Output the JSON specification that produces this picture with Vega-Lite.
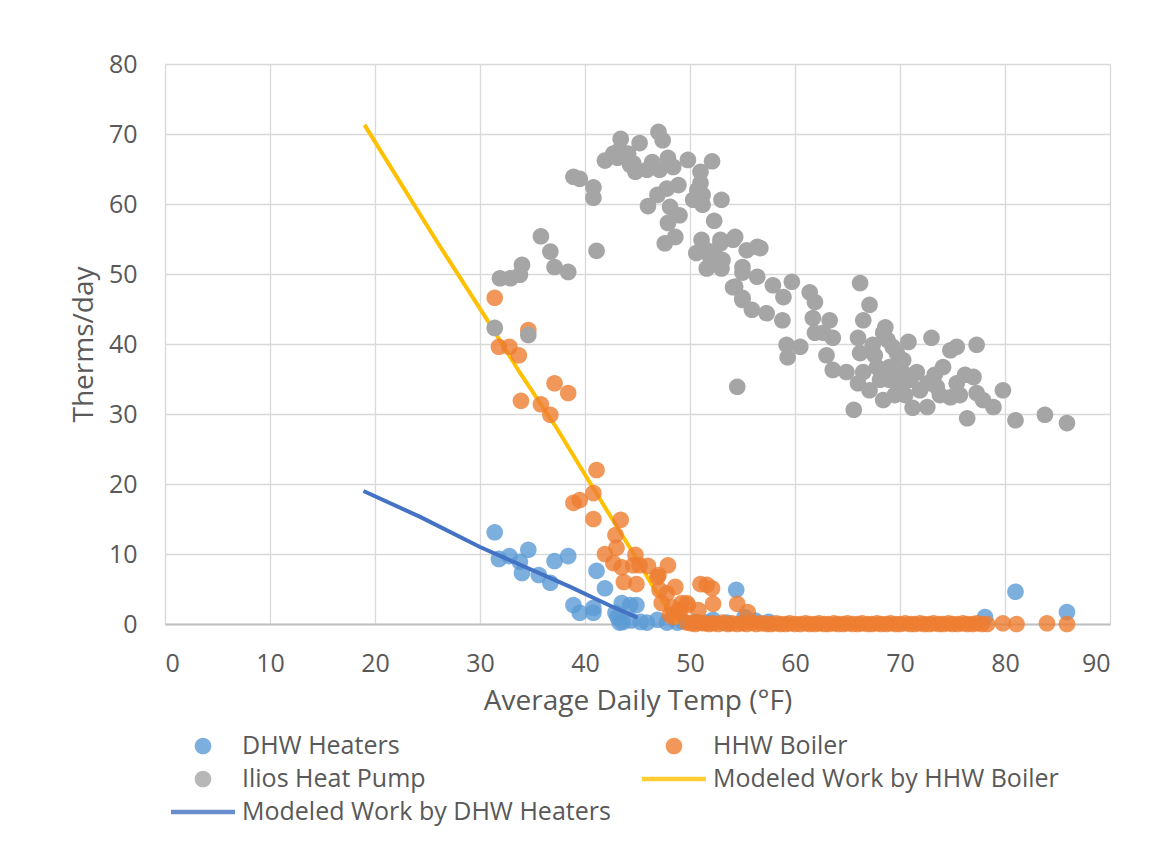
{
  "$schema": "https://vega.github.io/schema/vega-lite/v6.json",
  "width": 945,
  "height": 560,
  "autosize": {"type": "none"},
  "padding": {"left": 165, "top": 64, "right": 39, "bottom": 224},
  "background": "white",
  "config": {
    "font": "Open Sans",
    "view": {"stroke": null},
    "legend": {
      "symbolStrokeWidth": 0,
      "labelFontSize": 25,
      "labelColor": "#595959",
      "labelFont": "Open Sans",
      "labelOffset": 7,
      "labelLimit": 0,
      "padding": 0,
      "symbolOffset": 0,
      "symbolSize": 4096,
      "columnPadding": 31,
      "rowPadding": 5
    }
  },
  "encoding": {
    "x": {
      "field": "t", "type": "quantitative",
      "scale": {"domain": [0, 90], "nice": false},
      "axis": {
        "title": "Average Daily Temp (°F)",
        "values": [0, 10, 20, 30, 40, 50, 60, 70, 80, 90],
        "grid": true, "gridColor": "#D9D9D9", "gridWidth": 1.3,
        "ticks": false, "domainColor": "#BFBFBF", "domainWidth": 2,
        "labelFontSize": 25, "labelColor": "#595959", "labelPadding": 27, "labelFont": "Open Sans",
        "titleFontSize": 28, "titleColor": "#595959", "titleFontWeight": "normal", "titlePadding": 11, "titleFont": "Open Sans"
      }
    },
    "y": {
      "field": "v", "type": "quantitative",
      "scale": {"domain": [0, 80], "nice": false},
      "axis": {
        "title": "Therms/day",
        "values": [0, 10, 20, 30, 40, 50, 60, 70, 80],
        "grid": true, "gridColor": "#D9D9D9", "gridWidth": 1.3,
        "ticks": false, "domain": false,
        "labelFontSize": 25, "labelColor": "#595959", "labelPadding": 28, "labelFont": "Open Sans",
        "titleFontSize": 28, "titleColor": "#595959", "titleFontWeight": "normal", "titlePadding": 10, "titleFont": "Open Sans"
      }
    }
  },
  "layer": [
    {
      "data": {"values": [
        {"t":31.4,"v":13.1},{"t":31.8,"v":9.3},{"t":32.8,"v":9.7},{"t":33.8,"v":8.9},{"t":34.0,"v":7.3},
        {"t":34.6,"v":10.6},{"t":35.6,"v":7.0},{"t":36.7,"v":5.9},{"t":37.1,"v":9.0},{"t":38.4,"v":9.7},
        {"t":38.9,"v":2.7},{"t":39.5,"v":1.6},{"t":40.8,"v":2.3},{"t":40.8,"v":1.6},{"t":41.1,"v":7.6},
        {"t":41.9,"v":5.1},{"t":42.9,"v":1.6},{"t":43.5,"v":3.0},{"t":44.3,"v":2.7},{"t":44.9,"v":2.7},
        {"t":43.1,"v":1.0},{"t":43.3,"v":0.2},{"t":43.6,"v":0.3},{"t":44.4,"v":0.5},{"t":45.3,"v":0.3},
        {"t":45.9,"v":0.2},{"t":46.9,"v":0.6},{"t":47.8,"v":0.2},{"t":48.6,"v":1.3},{"t":48.8,"v":0.2},
        {"t":49.3,"v":0.4},{"t":50.5,"v":0.3},{"t":51.5,"v":0.2},{"t":52.2,"v":0.6},{"t":53.5,"v":0.2},
        {"t":54.4,"v":4.9},{"t":55.2,"v":1.0},{"t":56.2,"v":0.5},{"t":57.5,"v":0.3},{"t":78.1,"v":1.0},
        {"t":81.0,"v":4.6},{"t":85.9,"v":1.7}
      ]},
      "mark": {"type": "point", "filled": true, "size": 4096, "opacity": 0.8},
      "encoding": {
        "color": {
          "datum": "DHW Heaters",
          "scale": {
            "domain": ["DHW Heaters", "HHW Boiler", "Ilios Heat Pump", "Modeled Work by HHW Boiler", "Modeled Work by DHW Heaters"],
            "range": ["#5B9BD5", "#ED7D31", "#A5A5A5", "#FFC000", "#4472C4"]
          },
          "legend": {"title": null, "orient": "none", "legendX": 6, "legendY": 668, "direction": "horizontal", "columns": 2, "clipHeight": 28}
        },
        "shape": {
          "datum": "DHW Heaters",
          "scale": {
            "domain": ["DHW Heaters", "HHW Boiler", "Ilios Heat Pump", "Modeled Work by HHW Boiler", "Modeled Work by DHW Heaters"],
            "range": [
              "M-0.26,0A0.26,0.26,0,1,1,0.26,0A0.26,0.26,0,1,1,-0.26,0Z",
              "M-0.26,0A0.26,0.26,0,1,1,0.26,0A0.26,0.26,0,1,1,-0.26,0Z",
              "M-0.26,0A0.26,0.26,0,1,1,0.26,0A0.26,0.26,0,1,1,-0.26,0Z",
              "M-1,-0.07L1,-0.07L1,0.07L-1,0.07Z",
              "M-1,-0.07L1,-0.07L1,0.07L-1,0.07Z"
            ]
          },
          "legend": {"title": null, "orient": "none", "legendX": 6, "legendY": 668, "direction": "horizontal", "columns": 2, "clipHeight": 28}
        }
      }
    },
    {
      "data": {"values": [
        {"t":19.0,"v":71.3},{"t":26.0,"v":54.4},{"t":30.7,"v":43.4},{"t":33.8,"v":35.9},{"t":37.3,"v":28.0},
        {"t":40.5,"v":20.1},{"t":44.6,"v":10.1},{"t":46.5,"v":5.3},{"t":48.8,"v":0.0}
      ]},
      "mark": {"type": "line", "strokeWidth": 4},
      "encoding": {"color": {"datum": "Modeled Work by HHW Boiler", "legend": null}}
    },
    {
      "data": {"values": [
        {"t":18.9,"v":19.0},{"t":24.3,"v":15.3},{"t":30.0,"v":11.0},{"t":38.6,"v":5.3},{"t":42.7,"v":2.4},{"t":45.0,"v":0.9}
      ]},
      "mark": {"type": "line", "strokeWidth": 4},
      "encoding": {"color": {"datum": "Modeled Work by DHW Heaters", "legend": null}}
    },
    {
      "data": {"values": [
        {"t":31.4,"v":46.6},{"t":34.6,"v":42.0},{"t":31.8,"v":39.6},{"t":32.8,"v":39.6},{"t":33.7,"v":38.4},
        {"t":37.1,"v":34.4},{"t":38.4,"v":33.0},{"t":33.9,"v":31.9},{"t":35.8,"v":31.4},{"t":36.7,"v":29.9},
        {"t":41.1,"v":22.0},{"t":40.8,"v":18.7},{"t":38.9,"v":17.3},{"t":39.5,"v":17.7},{"t":40.8,"v":15.0},
        {"t":43.4,"v":14.9},{"t":42.9,"v":12.7},{"t":43.0,"v":10.9},{"t":41.9,"v":10.0},{"t":44.8,"v":9.9},
        {"t":42.7,"v":8.7},{"t":43.5,"v":8.1},{"t":44.6,"v":8.4},{"t":45.2,"v":8.4},{"t":46.0,"v":8.3},
        {"t":47.9,"v":8.4},{"t":43.7,"v":6.0},{"t":44.9,"v":5.7},{"t":46.9,"v":6.7},{"t":47.1,"v":4.9},
        {"t":47.8,"v":4.4},{"t":48.6,"v":5.3},{"t":47.3,"v":3.0},{"t":48.3,"v":2.4},{"t":49.2,"v":3.0},
        {"t":49.8,"v":2.7},{"t":51.0,"v":5.7},{"t":51.6,"v":5.6},{"t":52.1,"v":5.1},{"t":52.2,"v":2.9},
        {"t":54.5,"v":2.9},{"t":55.5,"v":1.7},{"t":48.1,"v":1.3},{"t":49.0,"v":1.6},{"t":47.0,"v":7.0},
        {"t":48.9,"v":2.0},{"t":50.8,"v":2.0},{"t":48.4,"v":1.0},{"t":49.7,"v":3.0},
        {"t":49.7,"v":0.2},{"t":50.1,"v":0.1},{"t":50.5,"v":0.0},{"t":50.9,"v":0.2},{"t":51.3,"v":0.1},
        {"t":51.8,"v":0.0},{"t":52.2,"v":0.1},{"t":52.7,"v":0.0},{"t":53.1,"v":0.2},{"t":53.6,"v":0.0},
        {"t":54.0,"v":0.1},{"t":54.5,"v":0.0},{"t":55.0,"v":0.1},{"t":55.4,"v":0.0},{"t":55.9,"v":0.2},
        {"t":56.3,"v":0.0},{"t":56.8,"v":0.1},{"t":57.3,"v":0.0},{"t":57.7,"v":0.0},{"t":58.2,"v":0.1},
        {"t":58.6,"v":0.0},{"t":59.1,"v":0.0},{"t":59.5,"v":0.1},{"t":60.0,"v":0.0},{"t":60.5,"v":0.0},
        {"t":61.0,"v":0.1},{"t":61.4,"v":0.0},{"t":61.9,"v":0.0},{"t":62.3,"v":0.1},{"t":62.8,"v":0.0},
        {"t":63.2,"v":0.0},{"t":63.7,"v":0.1},{"t":64.1,"v":0.0},{"t":64.6,"v":0.0},{"t":65.0,"v":0.1},
        {"t":65.5,"v":0.0},{"t":66.0,"v":0.0},{"t":66.4,"v":0.1},{"t":66.9,"v":0.0},{"t":67.3,"v":0.0},
        {"t":67.8,"v":0.1},{"t":68.2,"v":0.0},{"t":68.7,"v":0.0},{"t":69.1,"v":0.1},{"t":69.6,"v":0.0},
        {"t":70.0,"v":0.0},{"t":70.5,"v":0.1},{"t":71.0,"v":0.0},{"t":71.4,"v":0.0},{"t":71.9,"v":0.1},
        {"t":72.3,"v":0.0},{"t":72.8,"v":0.0},{"t":73.2,"v":0.1},{"t":73.7,"v":0.0},{"t":74.1,"v":0.0},
        {"t":74.6,"v":0.1},{"t":75.0,"v":0.0},{"t":75.5,"v":0.0},{"t":76.0,"v":0.1},{"t":76.4,"v":0.0},
        {"t":76.9,"v":0.0},{"t":77.3,"v":0.1},{"t":77.8,"v":0.0},{"t":78.3,"v":0.0},{"t":79.8,"v":0.1},
        {"t":81.1,"v":0.0},{"t":84.0,"v":0.1},{"t":85.9,"v":0.0}
      ]},
      "mark": {"type": "point", "filled": true, "size": 4096, "opacity": 0.8},
      "encoding": {
        "color": {"datum": "HHW Boiler", "legend": {"title": null, "orient": "none", "legendX": 6, "legendY": 668, "direction": "horizontal", "columns": 2, "clipHeight": 28}},
        "shape": {"datum": "HHW Boiler", "legend": {"title": null, "orient": "none", "legendX": 6, "legendY": 668, "direction": "horizontal", "columns": 2, "clipHeight": 28}}
      }
    },
    {
      "data": {"values": [
        {"t":31.4,"v":42.3},{"t":34.6,"v":41.3},{"t":31.9,"v":49.4},{"t":32.9,"v":49.4},{"t":33.8,"v":49.9},
        {"t":34.0,"v":51.3},{"t":35.8,"v":55.4},{"t":36.7,"v":53.2},{"t":37.1,"v":51.0},{"t":38.4,"v":50.3},
        {"t":41.1,"v":53.3},{"t":38.9,"v":63.9},{"t":39.5,"v":63.6},{"t":40.8,"v":62.4},{"t":40.8,"v":60.9},
        {"t":41.9,"v":66.2},{"t":42.7,"v":67.2},{"t":43.4,"v":69.3},{"t":43.3,"v":67.7},{"t":44.1,"v":67.2},
        {"t":44.6,"v":65.8},{"t":45.2,"v":68.7},{"t":44.8,"v":64.6},{"t":45.9,"v":64.9},{"t":47.0,"v":70.3},
        {"t":47.4,"v":69.1},{"t":47.9,"v":66.6},{"t":48.4,"v":65.3},{"t":47.1,"v":64.9},{"t":49.8,"v":66.3},
        {"t":52.1,"v":66.1},{"t":51.0,"v":64.6},{"t":51.0,"v":63.0},{"t":46.0,"v":59.7},{"t":46.9,"v":61.3},
        {"t":47.8,"v":62.2},{"t":48.9,"v":62.7},{"t":48.1,"v":59.6},{"t":49.0,"v":58.4},{"t":47.9,"v":57.3},
        {"t":47.6,"v":54.4},{"t":48.6,"v":55.3},{"t":50.3,"v":60.6},{"t":51.2,"v":61.3},{"t":53.0,"v":60.6},
        {"t":52.3,"v":57.6},{"t":51.1,"v":54.9},{"t":52.9,"v":54.9},{"t":54.1,"v":54.9},{"t":50.6,"v":53.0},
        {"t":51.6,"v":50.8},{"t":53.0,"v":50.8},{"t":52.5,"v":52.5},{"t":54.5,"v":33.9},{"t":55.0,"v":50.2},
        {"t":54.3,"v":48.2},{"t":55.0,"v":46.3},{"t":51.9,"v":52.5},{"t":53.1,"v":52.0},{"t":55.0,"v":51.0},
        {"t":56.4,"v":53.9},{"t":54.3,"v":55.3},{"t":51.6,"v":53.4},{"t":52.9,"v":54.4},{"t":55.4,"v":53.4},
        {"t":56.7,"v":53.7},{"t":56.4,"v":49.6},{"t":54.1,"v":48.1},{"t":55.9,"v":44.9},{"t":57.3,"v":44.4},
        {"t":57.9,"v":48.4},{"t":58.9,"v":46.7},{"t":58.8,"v":43.4},{"t":59.7,"v":48.9},{"t":61.4,"v":47.4},
        {"t":61.9,"v":46.0},{"t":61.7,"v":43.7},{"t":63.3,"v":43.4},{"t":61.9,"v":41.6},{"t":63.6,"v":40.9},
        {"t":62.7,"v":41.6},{"t":59.2,"v":39.9},{"t":60.5,"v":39.6},{"t":59.3,"v":38.1},{"t":63.0,"v":38.4},
        {"t":63.6,"v":36.3},{"t":64.9,"v":36.0},{"t":66.2,"v":48.7},{"t":67.1,"v":45.6},{"t":66.5,"v":43.4},
        {"t":66.0,"v":40.9},{"t":68.6,"v":42.4},{"t":67.4,"v":39.9},{"t":66.2,"v":38.7},{"t":65.6,"v":30.6},
        {"t":66.0,"v":34.4},{"t":68.8,"v":40.6},{"t":67.8,"v":36.7},{"t":68.4,"v":32.0},{"t":67.1,"v":33.4},
        {"t":69.7,"v":38.7},{"t":70.3,"v":35.9},{"t":69.0,"v":34.9},{"t":70.8,"v":40.3},{"t":71.2,"v":30.9},
        {"t":72.6,"v":31.0},{"t":71.6,"v":36.0},{"t":72.6,"v":34.4},{"t":73.0,"v":40.9},{"t":74.1,"v":36.7},
        {"t":74.8,"v":39.1},{"t":75.4,"v":39.6},{"t":73.5,"v":33.9},{"t":74.8,"v":32.4},{"t":75.4,"v":34.4},
        {"t":77.0,"v":35.3},{"t":77.3,"v":39.9},{"t":76.4,"v":29.4},{"t":77.3,"v":33.0},{"t":77.9,"v":32.0},
        {"t":78.9,"v":31.0},{"t":79.8,"v":33.4},{"t":81.0,"v":29.1},{"t":83.8,"v":29.9},{"t":85.9,"v":28.7},
        {"t":69.3,"v":35.3},{"t":70.0,"v":33.9},{"t":70.3,"v":37.7},{"t":69.0,"v":36.7},{"t":66.5,"v":36.0},
        {"t":69.3,"v":39.6},{"t":68.4,"v":41.6},{"t":67.6,"v":38.4},{"t":68.1,"v":34.9},{"t":69.5,"v":32.7},
        {"t":70.5,"v":32.7},{"t":71.0,"v":34.9},{"t":71.9,"v":33.4},{"t":73.3,"v":35.6},{"t":73.8,"v":32.7},
        {"t":75.7,"v":32.7},{"t":76.2,"v":35.6},{"t":43.1,"v":66.6},{"t":44.3,"v":65.6},{"t":46.4,"v":66.0},
        {"t":50.7,"v":62.0},{"t":51.2,"v":59.9},{"t":55.0,"v":46.6}
      ]},
      "mark": {"type": "point", "filled": true, "size": 4096, "opacity": 1},
      "encoding": {
        "color": {"datum": "Ilios Heat Pump", "legend": {"title": null, "orient": "none", "legendX": 6, "legendY": 668, "direction": "horizontal", "columns": 2, "clipHeight": 28}},
        "shape": {"datum": "Ilios Heat Pump", "legend": {"title": null, "orient": "none", "legendX": 6, "legendY": 668, "direction": "horizontal", "columns": 2, "clipHeight": 28}}
      }
    }
  ]
}
